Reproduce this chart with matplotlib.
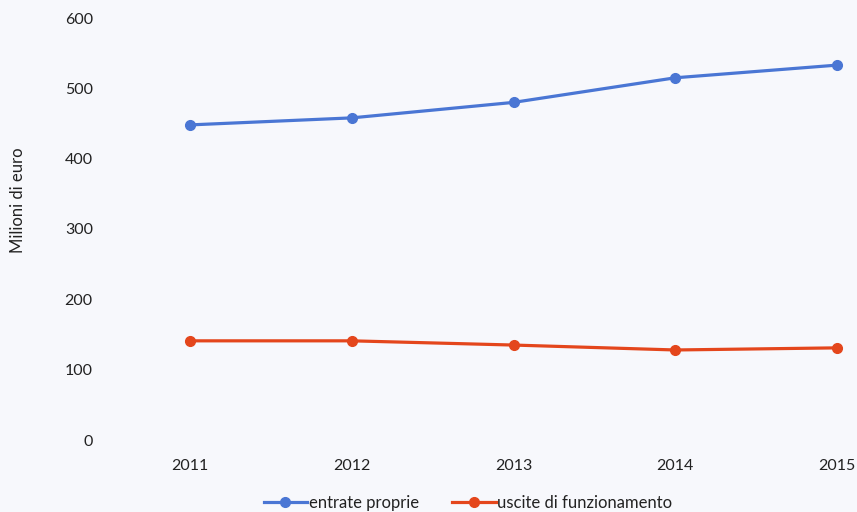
import matplotlib
matplotlib.use("Agg")
import matplotlib.pyplot as plt

# Data
anni = [2011, 2012, 2013, 2014, 2015]
entrate_proprie = [448, 458, 480, 515, 533]
uscite_funzionamento = [141, 141, 135, 128, 131]
yticks = [0, 100, 200, 300, 400, 500, 600]

plt.rcParams["font.family"] = ["Lato", "DejaVu Sans"]

bg = "#f7f8fc"
fig = plt.figure(figsize=(8.57, 5.12), dpi=100, facecolor=bg)
ax = fig.add_axes([190 / 857, 1 - 440 / 512, (837 - 190) / 857, (440 - 18) / 512])
ax.set_facecolor(bg)

ax.plot(anni, entrate_proprie, color="#4a76d4", linewidth=2.3, marker="o",
        markersize=7, label="entrate proprie", clip_on=False)
ax.plot(anni, uscite_funzionamento, color="#e4461c", linewidth=2.3, marker="o",
        markersize=7, label="uscite di funzionamento", clip_on=False)

ax.set_xlim(2011, 2015)
ax.set_ylim(0, 600)
ax.set_xticks(anni)
ax.set_yticks(yticks)
for s in ax.spines.values():
    s.set_visible(False)
ax.tick_params(axis="both", length=0, labelsize=11.5, colors="#222222")
ax.tick_params(axis="y", pad=70)
ax.tick_params(axis="x", pad=14)

fig.text(18 / 857, 1 - 200 / 512, "Milioni di euro", rotation=90,
         ha="center", va="center", fontsize=12, color="#222222")

leg = ax.legend(loc="center", bbox_to_anchor=(468 / 857, 1 - 503 / 512),
                bbox_transform=fig.transFigure, ncol=2, frameon=False,
                fontsize=12, handlelength=2.6, handletextpad=0.1,
                columnspacing=2.0)
for t in leg.get_texts():
    t.set_color("#222222")

fig.savefig("out.png", dpi=100, facecolor=bg)
